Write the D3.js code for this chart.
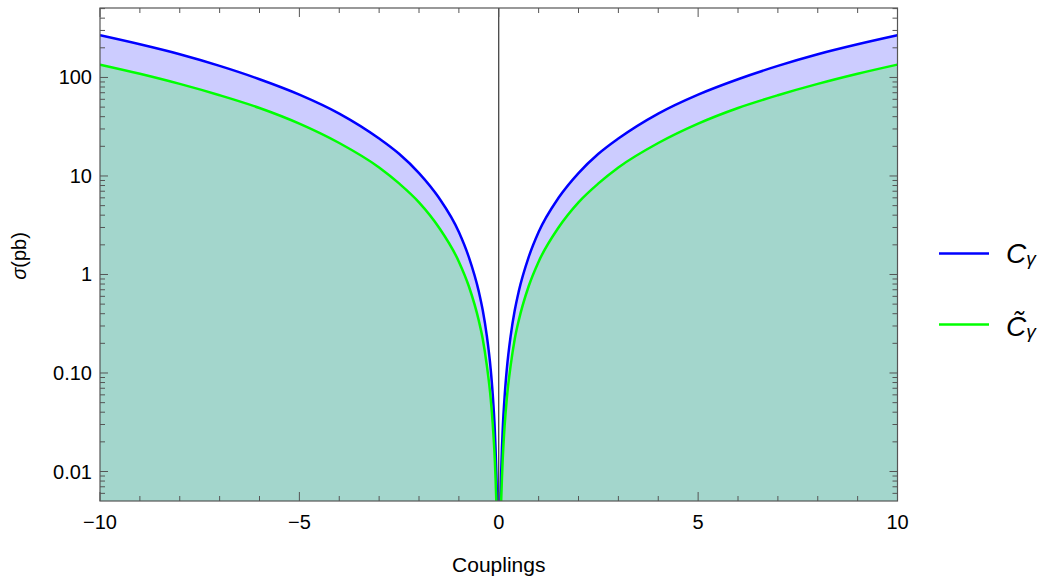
<!DOCTYPE html>
<html><head><meta charset="utf-8">
<script src="https://cdn.jsdelivr.net/npm/d3@7"></script>
<style>body{margin:0;background:#fff}svg{display:block}text{font-family:"Liberation Sans",Arial,sans-serif}</style>
</head><body>
<svg id="c" width="1044" height="577"></svg>
<script>
const couplings = [-10,-9,-8,-7,-6,-5,-4,-3,-2.5,-2,-1.5,-1,-0.75,-0.5,-0.4,-0.3,-0.2,-0.15,-0.1,-0.08,-0.06,-0.05,-0.04,
                   0.04,0.05,0.06,0.08,0.1,0.15,0.2,0.3,0.4,0.5,0.75,1,1.5,2,2.5,3,4,5,6,7,8,9,10];
const sigmaC = [268,217,172,131,96,67,43,24,16.8,10.7,6.0,2.7,1.5,0.67,0.43,0.24,0.107,0.060,0.027,0.017,0.0096,0.0067,0.0043,
                0.0043,0.0067,0.0096,0.017,0.027,0.060,0.107,0.24,0.43,0.67,1.5,2.7,6.0,10.7,16.8,24,43,67,96,131,172,217,268];
const sigmaCt = [135,109,86,66,49,34,21.6,12.2,8.4,5.4,3.0,1.35,0.76,0.34,0.22,0.12,0.054,0.030,0.0135,0.0086,0.0049,0.0034,0.0022,
                 0.0022,0.0034,0.0049,0.0086,0.0135,0.030,0.054,0.12,0.22,0.34,0.76,1.35,3.0,5.4,8.4,12.2,21.6,34,49,66,86,109,135];
const yTickVals = [100,10,1,0.1,0.01];
const yTickLabels = ["100","10","1","0.10","0.01"];
const xTickVals = [-10,-5,0,5,10];
const xTickLabels = ["\u221210","\u22125","0","5","10"];
const legendLabels = ["C", "C\u0303"];

const L=100, R=897.5, T=8, B=501;
const svg = d3.select("#c");
const x = d3.scaleLinear().domain([-10,10]).range([L,R]);
const y = d3.scaleLog().domain([0.00502,507]).range([B,T]);

svg.append("clipPath").attr("id","clip").append("rect").attr("x",L).attr("y",T).attr("width",R-L).attr("height",B-T);
const g = svg.append("g").attr("clip-path","url(#clip)");

function series(vals){ return couplings.map((c,i)=>({x:c,v:vals[i]})); }
const area = d3.area().x(d=>x(d.x)).y0(B).y1(d=>y(d.v)).curve(d3.curveMonotoneX);
const line = d3.line().x(d=>x(d.x)).y(d=>y(d.v)).curve(d3.curveMonotoneX);

function halves(vals){
  const s = series(vals);
  return [s.filter(d=>d.x<0), s.filter(d=>d.x>0)];
}
halves(sigmaC).forEach(h=>g.append("path").attr("d",area(h)).attr("fill","rgba(0,0,255,0.2)"));
halves(sigmaCt).forEach(h=>g.append("path").attr("d",area(h)).attr("fill","rgba(0,255,0,0.2)"));
g.append("line").attr("x1",x(0)).attr("x2",x(0)).attr("y1",T).attr("y2",B).attr("stroke","#222").attr("stroke-width",1.1);
halves(sigmaC).forEach(h=>g.append("path").attr("d",line(h)).attr("fill","none").attr("stroke","#0000ff").attr("stroke-width",2.5));
halves(sigmaCt).forEach(h=>g.append("path").attr("d",line(h)).attr("fill","none").attr("stroke","#00ff00").attr("stroke-width",2.5));

// frame
const fc="#555";
svg.append("rect").attr("x",L).attr("y",T).attr("width",R-L).attr("height",B-T).attr("fill","none").attr("stroke",fc).attr("stroke-width",1.2);

// x ticks
const xt = svg.append("g");
d3.range(-10,11,1).forEach(v=>{
  const major = xTickVals.includes(v);
  const len = major?9:5;
  xt.append("line").attr("x1",x(v)).attr("x2",x(v)).attr("y1",B).attr("y2",B-len).attr("stroke",fc);
  xt.append("line").attr("x1",x(v)).attr("x2",x(v)).attr("y1",T).attr("y2",T+len).attr("stroke",fc);
});
xTickVals.forEach((v,i)=>xt.append("text").attr("x",x(v)).attr("y",529).attr("text-anchor","middle").attr("font-size",20).attr("fill","#000").text(xTickLabels[i]));

// y ticks
const yt = svg.append("g");
const minor=[];
[0.001,0.01,0.1,1,10,100].forEach(d=>{for(let k=2;k<=9;k++){const v=d*k; if(v>=0.00502&&v<=507) minor.push(v);}});
minor.forEach(v=>{
  yt.append("line").attr("x1",L).attr("x2",L+5).attr("y1",y(v)).attr("y2",y(v)).attr("stroke",fc);
  yt.append("line").attr("x1",R).attr("x2",R-5).attr("y1",y(v)).attr("y2",y(v)).attr("stroke",fc);
});
yTickVals.forEach((v,i)=>{
  yt.append("line").attr("x1",L).attr("x2",L+8).attr("y1",y(v)).attr("y2",y(v)).attr("stroke",fc);
  yt.append("line").attr("x1",R).attr("x2",R-8).attr("y1",y(v)).attr("y2",y(v)).attr("stroke",fc);
  yt.append("text").attr("x",92).attr("y",y(v)+7).attr("text-anchor","end").attr("font-size",20).attr("fill","#000").text(yTickLabels[i]);
});

// axis labels
svg.append("text").attr("x",(L+R)/2).attr("y",572).attr("text-anchor","middle").attr("font-size",21).text("Couplings");
const yl = svg.append("text").attr("transform","translate(26,256) rotate(-90)").attr("text-anchor","middle").attr("font-size",20);
yl.append("tspan").attr("font-style","italic").text("\u03c3");
yl.append("tspan").text("(pb)");

// legend
const legend = [{color:"#0000ff", yy:253.5, base:262.5},{color:"#00ff00", yy:324.5, base:336}];
legend.forEach((d,i)=>{
  svg.append("line").attr("x1",939).attr("x2",989).attr("y1",d.yy).attr("y2",d.yy).attr("stroke",d.color).attr("stroke-width",2.5);
  const t = svg.append("text").attr("x",1006).attr("y",d.base).attr("font-size",28).attr("font-style","italic");
  t.append("tspan").text(legendLabels[i]);
  t.append("tspan").attr("font-size",19).attr("dy",2).text("\u03b3");
});
</script>
</body></html>
